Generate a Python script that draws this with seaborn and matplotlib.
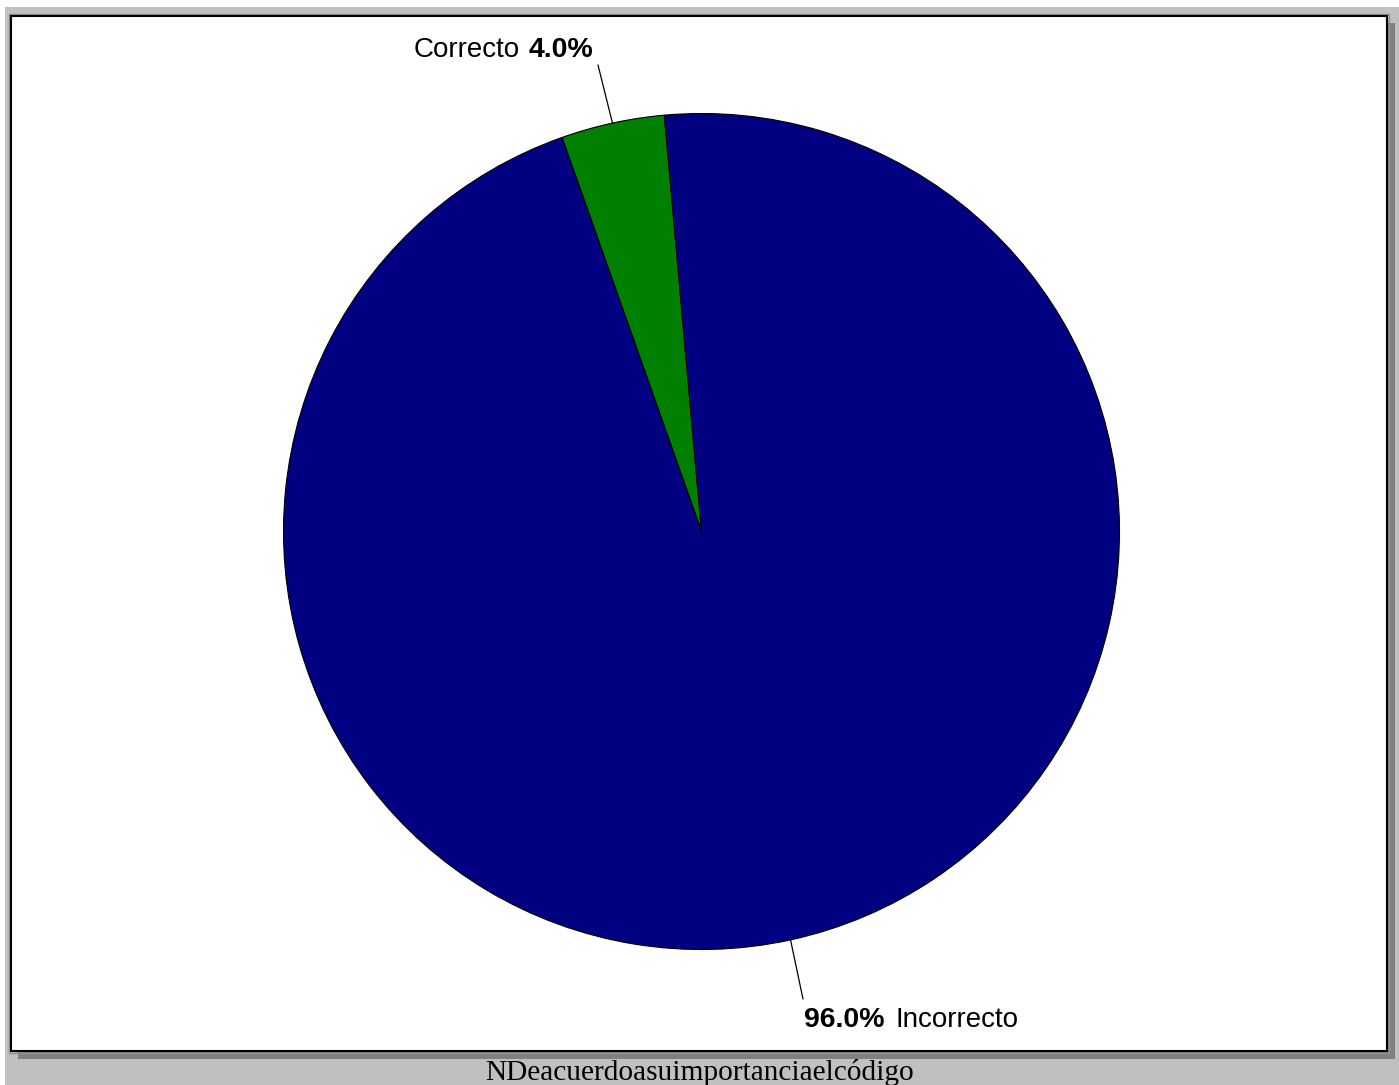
import numpy as np
import matplotlib
matplotlib.use("Agg")
import matplotlib.pyplot as plt
import seaborn as sns
from matplotlib.patches import Rectangle

categories = ["Correcto", "Incorrecto"]
values = [4.0, 96.0]
colors = ["#008000", "#000080"]
caption = "NDeacuerdoasuimportanciaelcódigo"

W, H = 1399, 1085

sns.set_theme(style="white")
plt.rcParams['font.family'] = ['Liberation Sans', 'DejaVu Sans']

fig = plt.figure(figsize=(W / 100, H / 100), dpi=100)
fig.patch.set_facecolor("#C0C0C0")


def fx(px):
    return px / W


def fy(py):
    return 1 - py / H


def frect(x0, y0, x1, y1, **kw):
    r = Rectangle((fx(x0), fy(y1)), fx(x1) - fx(x0), fy(y0) - fy(y1),
                  transform=fig.transFigure, **kw)
    fig.patches.append(r)
    return r


# page strips, shadow and chart box
frect(0, 0, W, 7, facecolor="white", edgecolor="none", zorder=0)
frect(0, 0, 5, H, facecolor="white", edgecolor="none", zorder=0)
frect(18, 23, 1395, 1059, facecolor="#808080", edgecolor="none", zorder=1)
frect(8.5, 13.5, 1388.5, 1052.5, facecolor="none", edgecolor="#909090", linewidth=1, zorder=2)
frect(10.5, 15.5, 1386.5, 1050.5, facecolor="white", edgecolor="black", linewidth=1.5, zorder=2)

# pie axes
cx, cy, R = 701.5, 531.5, 418
ax = fig.add_axes([fx(cx - R), fy(cy + R), 2 * R / W, 2 * R / H])
ax.set_zorder(3)
wedges, _ = ax.pie(values, colors=colors, startangle=95.1, counterclock=True,
                   wedgeprops=dict(edgecolor="black", linewidth=0.8))
for w in wedges:
    w.set_clip_on(False)
ax.set_xlim(-1, 1)
ax.set_ylim(-1, 1)
ax.set_aspect("equal")
ax.axis("off")


def d(px, py):
    return ((px - cx) / R, (cy - py) / R)


# label layout: line end, baseline, x of name and of percentage
label_layout = {
    "Correcto": dict(end=(598, 65), base=57, name_x=520, pct_x=529, name_first=True),
    "Incorrecto": dict(end=(803, 999), base=1027, name_x=895, pct_x=804, name_first=False),
}

for w, cat, v in zip(wedges, categories, values):
    mid = np.deg2rad((w.theta1 + w.theta2) / 2)
    edge = (np.cos(mid), np.sin(mid))
    lay = label_layout[cat]
    ex, ey = d(*lay["end"])
    ax.plot([edge[0], ex], [edge[1], ey], color="black", lw=0.9, clip_on=False)
    pct = f"{v:.1f}%"
    nx, ny = d(lay["name_x"], lay["base"])
    px_, py_ = d(lay["pct_x"], lay["base"])
    name_ha = "right" if lay["name_first"] else "left"
    ax.text(nx, ny, cat, ha=name_ha, va="baseline", fontsize=20, color="black")
    ax.text(px_, py_, pct, ha="left", va="baseline", fontsize=20.5,
            fontweight="bold", color="black")

fig.text(fx(700), fy(1080), caption, ha="center", va="baseline",
         fontsize=21.2, family=["Liberation Serif", "DejaVu Serif"], color="black")

fig.savefig("out.png", dpi=100, facecolor=fig.get_facecolor())
